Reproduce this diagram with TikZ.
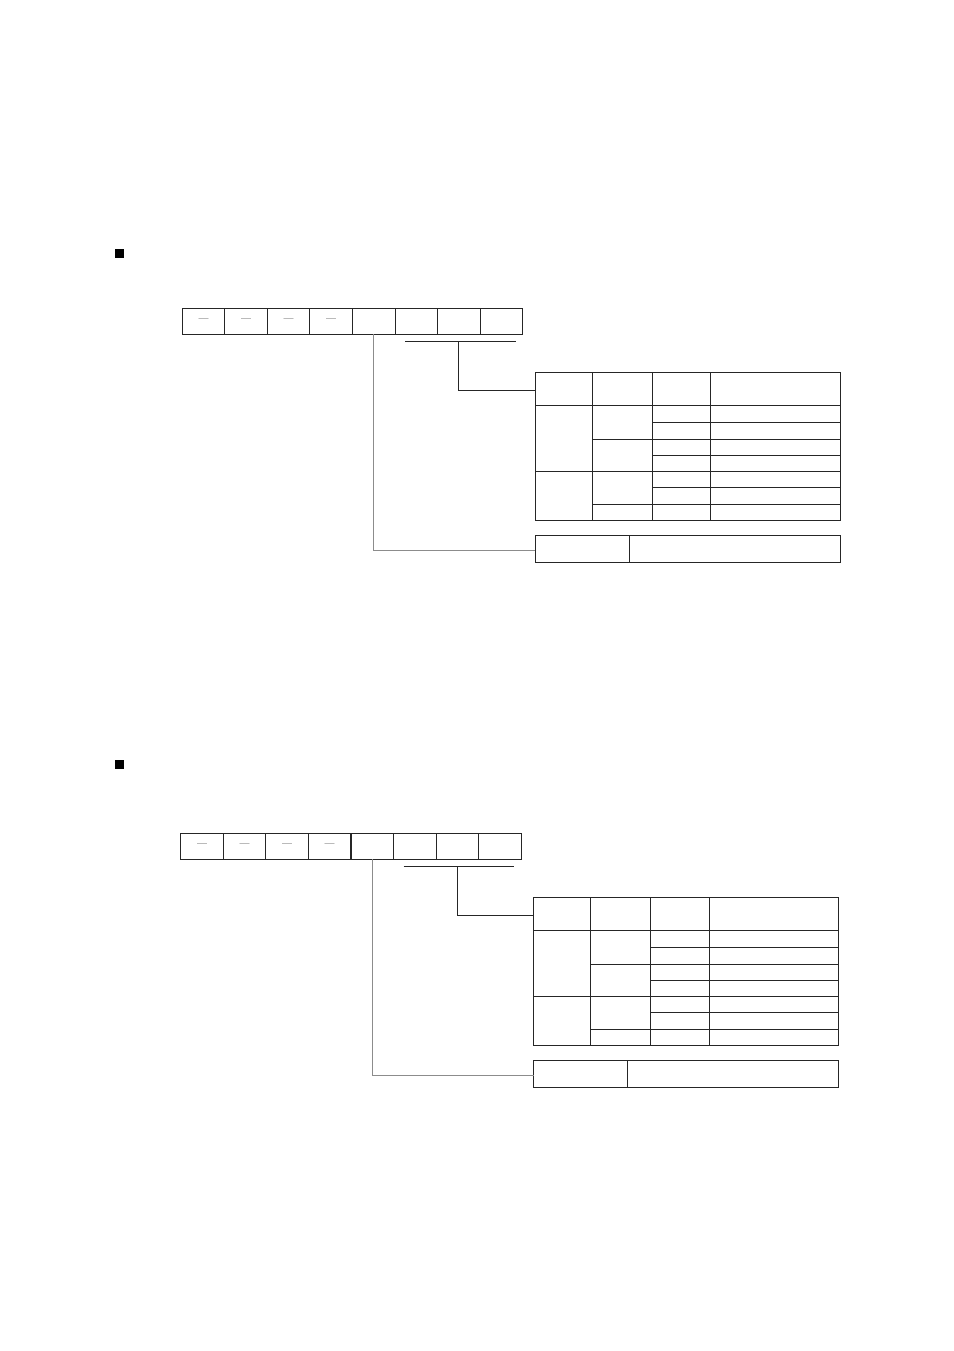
\documentclass[tikz,border=0pt]{standalone}
\usetikzlibrary{positioning}

\tikzset{
  cell/.style={draw=black!85, line width=0.5pt, minimum width=21.25pt,
    minimum height=13pt, inner sep=0pt, outer sep=0pt},
  rule/.style={draw=black!85, line width=0.5pt},
  faint/.style={draw=black!45, line width=0.6pt},
  bullet/.style={fill=black, minimum size=4.6pt, inner sep=0pt},
}

\begin{document}
\begin{tikzpicture}[x=0.5pt,y=-0.5pt]
  \useasboundingbox (0,0) rectangle (954,1351);
  \foreach \d/\dx/\dy/\by in {a/0/0/253.3, b/-1.5/525/764.2}{
    \node[bullet] (\d sq) at (119.5,\by) {};
    \begin{scope}[shift={(\dx,\dy)}]
      % register bits 7..0
      \foreach \i/\t in {7/--, 6/--, 5/--, 4/--, 3/, 2/, 1/, 0/}
        \node[cell, anchor=north west, text=black!60] (\d r\i)
          at ({182.3+(7-\i)*42.55},308.3) {\t};
      % bracket under bits 2..0
      \coordinate (\d bl) at (405,341.3);
      \coordinate (\d br) at (515.7,341.3);
      \coordinate (\d bm) at (\d r1 |- \d bl);
      \draw[rule] (\d bl) -- (\d br);
      % mode table
      \node[cell, anchor=north west, minimum width=152.5pt, minimum height=74pt]
        (\d tab) at (535,372.3) {};
      \foreach \xx in {592.3,652.3,710.7}
        \draw[rule] (\xx,372.3) -- (\xx,520.3);
      \foreach \yy/\xx in {405.7/535, 422.3/652.3, 439.3/592.3, 455.3/652.3,
                           471.3/535, 487.3/652.3, 504.7/592.3}
        \draw[rule] (\xx,\yy) -- (840,\yy);
      % bit 3 box
      \node[cell, anchor=north west, minimum width=152.5pt, minimum height=13.5pt]
        (\d pol) at (535,535.7) {};
      \draw[rule] (629,535.7) -- (629,562.7);
      % connectors
      \coordinate (\d tin) at (535,390);
      \coordinate (\d pin) at (535,550.7);
      \draw[rule] (\d bm) |- (\d tin);
      \draw[faint] (\d r3.south) |- (\d pin);
    \end{scope}
  }
\end{tikzpicture}
\end{document}
